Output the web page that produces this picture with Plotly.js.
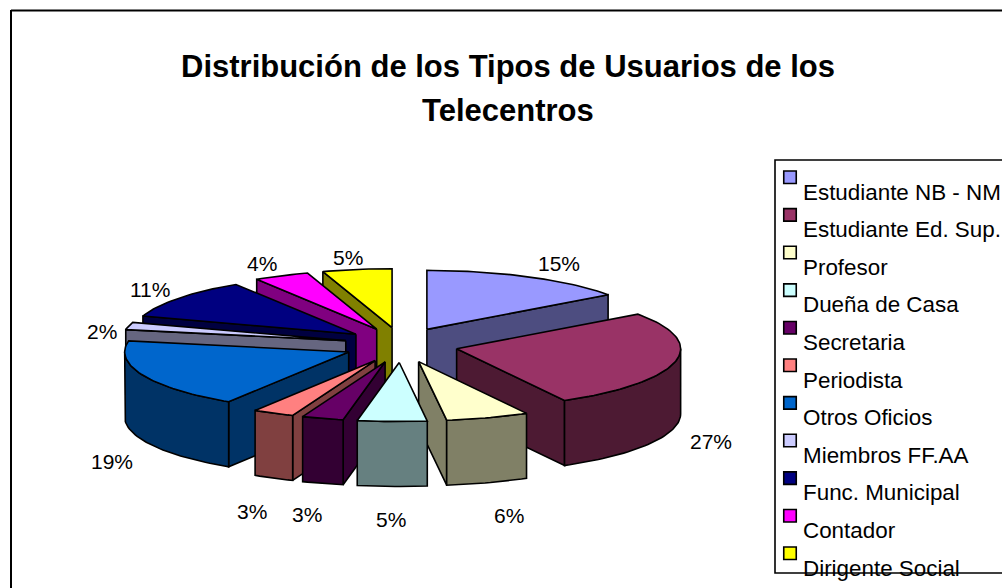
<!DOCTYPE html>
<html>
<head>
<meta charset="utf-8">
<script src="https://cdn.plot.ly/plotly-3.0.1.min.js"></script>
<style>html,body{margin:0;padding:0;background:#fff;overflow:hidden}#chart{width:1002px;height:588px}</style>
</head>
<body>
<div id="chart"></div>
<script>
const categories = ["Estudiante NB - NM","Estudiante Ed. Sup.","Profesor","Dueña de Casa","Secretaria","Periodista","Otros Oficios","Miembros FF.AA","Func. Municipal","Contador","Dirigente Social"];
const values = [15,27,6,5,3,3,19,2,11,4,5];
const topColors = ["#9999FF","#993366","#FFFFCC","#CCFFFF","#660066","#FF8080","#0066CC","#CCCCFF","#000080","#FF00FF","#FFFF00"];
const wallColors = ["#4D4D80","#4D1A33","#808066","#668080","#330033","#804040","#003366","#666680","#000040","#800080","#808000"];
const labelX = [559,711,509,391,307,252,112,102,150,262,348];
const labelY = [263,441,515,519,514,511,461,331,289,263,257];

// projection of the tilted, exploded pie in page-sized axis units
const CX = 401, CY = 345, RX = 224, RY = 59, PULLX = 57, PULLY = 17.5, DEPTH = 65;
const FONT = '"Liberation Sans", Arial, sans-serif';
const total = values.reduce((a, b) => a + b, 0);
const rad = d => d * Math.PI / 180;

function slices() {
  let acc = 0;
  return values.map((v, i) => {
    const a0 = acc / total * 360; acc += v;
    const a1 = acc / total * 360, mid = (a0 + a1) / 2;
    return {i, a0, a1, mid,
      ax: CX + PULLX * Math.sin(rad(mid)),
      ay: CY - PULLY * Math.cos(rad(mid))};
  });
}
function rimPt(s, a, drop) {
  return [s.ax + RX * Math.sin(rad(a)), s.ay - RY * Math.cos(rad(a)) + (drop || 0)];
}
function arc(s, from, to, drop) {
  const pts = [], n = Math.max(2, Math.ceil(Math.abs(to - from) / 1.5));
  for (let k = 0; k <= n; k++) pts.push(rimPt(s, from + (to - from) * k / n, drop));
  return pts;
}
function poly(pts, fill, name) {
  const x = pts.map(p => p[0]), y = pts.map(p => p[1]);
  x.push(x[0]); y.push(y[0]);
  return {type: 'scatter', mode: 'lines', x, y, fill: 'toself', fillcolor: fill, name,
    line: {color: '#000', width: 1.6, shape: 'linear'}, showlegend: false, hoverinfo: 'name'};
}
function radialWall(s, a) {
  const p = rimPt(s, a);
  return [[s.ax, s.ay], p, [p[0], p[1] + DEPTH], [s.ax, s.ay + DEPTH]];
}

const traces = [];
slices().sort((p, q) => -Math.cos(rad(p.mid)) + Math.cos(rad(q.mid))).forEach(s => {
  const name = categories[s.i], wall = wallColors[s.i];
  if (Math.sin(rad(s.a0)) < -1e-6) traces.push(poly(radialWall(s, s.a0), wall, name));
  if (Math.sin(rad(s.a1)) > 1e-6) traces.push(poly(radialWall(s, s.a1), wall, name));
  const lo = Math.max(s.a0, 90), hi = Math.min(s.a1, 270);
  if (hi > lo) traces.push(poly(arc(s, lo, hi, 0).concat(arc(s, hi, lo, DEPTH)), wall, name));
  traces.push(poly([[s.ax, s.ay]].concat(arc(s, s.a0, s.a1, 0)), topColors[s.i], name));
});

// legend
const LEGX = 790, LEGTEXTX = 801, LEGTOP = 177.3, LEGTEXTTOP = 192, LEGSTEP = 37.6;
traces.push({type: 'scatter', mode: 'markers', hoverinfo: 'skip', showlegend: false,
  x: categories.map(() => LEGX), y: categories.map((c, i) => LEGTOP + i * LEGSTEP),
  marker: {symbol: 'square', size: 12.5, color: topColors, line: {color: '#000', width: 1.6}}});

const annotations = values.map((v, i) => ({
  x: labelX[i], y: labelY[i], xref: 'x', yref: 'y', text: v + '%', showarrow: false,
  xanchor: 'center', yanchor: 'middle', font: {family: FONT, size: 21, color: '#000'}
})).concat(categories.map((c, i) => ({
  x: LEGTEXTX, y: LEGTEXTTOP + i * LEGSTEP, xref: 'x', yref: 'y', text: c, showarrow: false,
  xanchor: 'left', yanchor: 'middle', font: {family: FONT, size: 22.4, color: '#000'}
}))).concat([{
  x: 508, y: 110, xref: 'x', yref: 'y', text: 'Telecentros', showarrow: false,
  xanchor: 'center', yanchor: 'middle', font: {family: FONT, size: 31, color: '#000', weight: 700}
}]);

const black = {color: '#000', width: 2};
const shapes = [
  {type: 'line', x0: 11, x1: 1010, y0: 10.5, y1: 10.5, line: black, layer: 'below'},
  {type: 'line', x0: 11, x1: 11, y0: 10, y1: 600, line: black, layer: 'below'},
  {type: 'rect', x0: 775, x1: 1010, y0: 160, y1: 573, line: {color: '#000', width: 1.6}, fillcolor: 'rgba(0,0,0,0)', layer: 'below'}
];

const layout = {
  width: 1002, height: 588, margin: {l: 0, r: 0, t: 0, b: 0},
  paper_bgcolor: '#fff', plot_bgcolor: '#fff', showlegend: false,
  title: {text: 'Distribución de los Tipos de Usuarios de los',
    x: 508 / 1002, xanchor: 'center', xref: 'paper', y: 1 - 55 / 588, yanchor: 'top', yref: 'container',
    font: {family: FONT, size: 31, color: '#000', weight: 700}},
  xaxis: {range: [0, 1002], visible: false, fixedrange: true},
  yaxis: {range: [588, 0], visible: false, fixedrange: true},
  annotations, shapes
};
Plotly.newPlot('chart', traces, layout, {displayModeBar: false, responsive: false});
</script>
</body>
</html>
